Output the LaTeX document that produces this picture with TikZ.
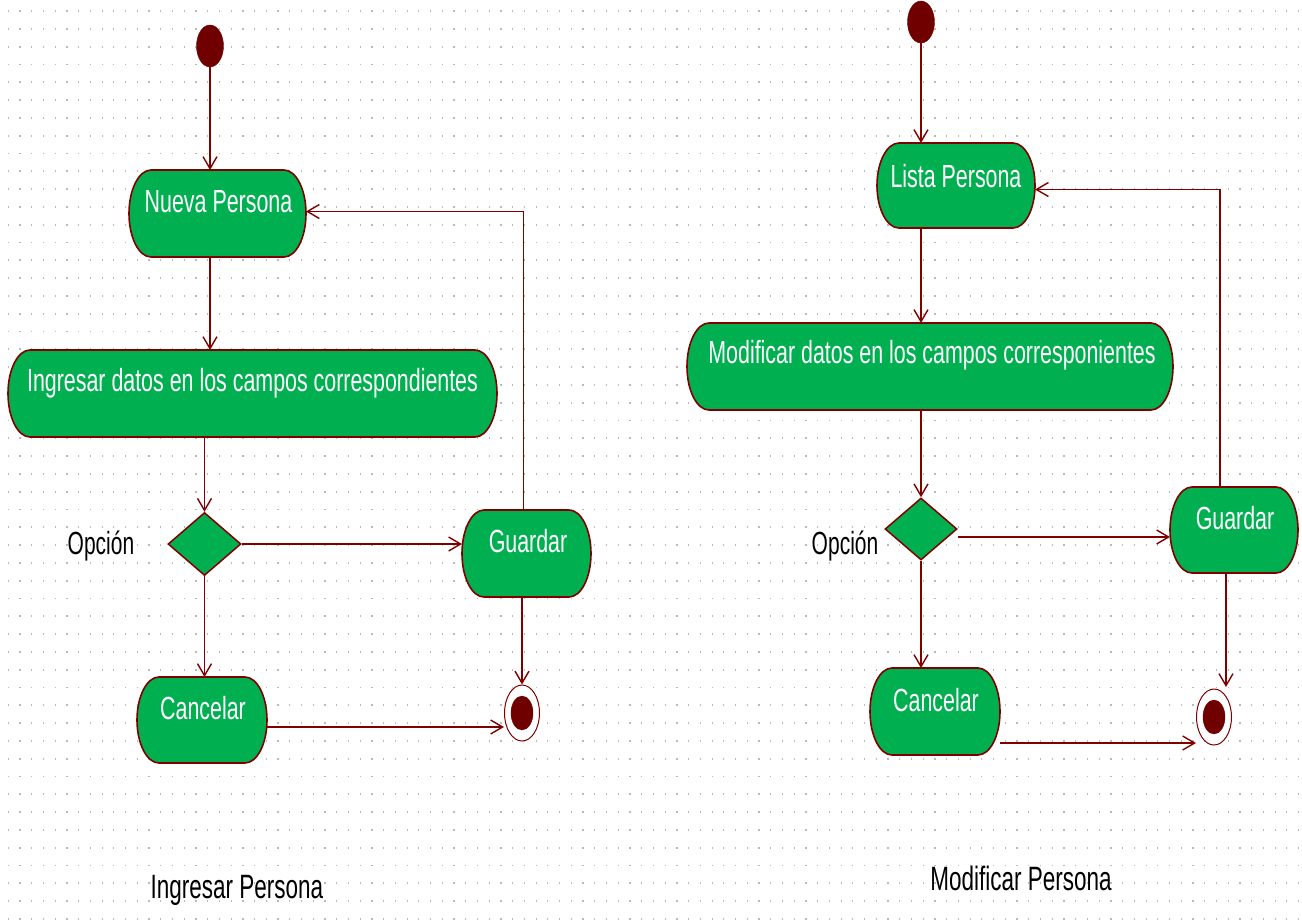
\documentclass[tikz,border=0pt]{standalone}
\usepackage{fontspec}
\setmainfont{Liberation Sans}
\usetikzlibrary{arrows.meta,shapes.geometric}
\definecolor{umlred}{RGB}{128,0,0}
\definecolor{umldark}{RGB}{112,0,0}
\definecolor{umlgreen}{RGB}{0,176,80}
\definecolor{dotgray}{RGB}{185,185,185}
\tikzset{
  boxnode/.style={rectangle, inner sep=0pt, outer sep=0pt, draw=none},
  boxline/.style={draw=umlred, fill=umlgreen, line width=1.6pt},
  acttxt/.style={text=white, font=\fontsize{20}{24}\selectfont, inner sep=0pt},
  plaintxt/.style={text=black, font=\fontsize{20}{24}\selectfont, inner sep=0pt},
  titletxt/.style={text=black, font=\fontsize{22.5}{26}\selectfont, inner sep=0pt},
  arr/.style={draw=umlred, line width=1.6pt, -{Straight Barb[length=12pt,width=14pt,line width=1.4pt]}},
  initnode/.style={ellipse, draw=umldark, fill=umldark, inner sep=0pt, minimum width=27pt, minimum height=42pt},
  finalouter/.style={ellipse, draw=umlred, fill=white, line width=1pt, inner sep=0pt, minimum width=35pt, minimum height=56pt},
  finalinner/.style={ellipse, draw=umldark, fill=umldark, inner sep=0pt, minimum width=22pt, minimum height=34pt},
  decision/.style={diamond, draw=umlred, fill=umlgreen, line width=1.5pt, inner sep=0pt, minimum width=73pt, minimum height=63pt},
}
\newcommand\actbox[5]{%
  \node[boxnode, minimum width=#4pt, minimum height=#5pt] (#1) at (#2,#3) {};
  \filldraw[boxline] ([xshift=22pt]#1.north west) -- ([xshift=-22pt]#1.north east)
     arc[start angle=90, end angle=-90, x radius=22pt, y radius=#5pt/2]
     -- ([xshift=22pt]#1.south west)
     arc[start angle=270, end angle=90, x radius=22pt, y radius=#5pt/2] -- cycle;
}
\newcommand\acttext[4]{\node[acttxt] (#1) at (#2,#3) {\scalebox{1.07}[1.6]{#4}};}
\begin{document}
\begin{tikzpicture}[x=1pt,y=-1pt]
\useasboundingbox (0,0) rectangle (1302,919);
\fill[white] (0,0) rectangle (1302,919);
% dotted grid
\foreach \i in {0,...,110}{
  \foreach \j in {0,...,51}{
    \fill[dotgray] ({7.7+11.73*\i},{10.1+17.8*\j}) rectangle ++(1.2,1.8);
  }
}
% ---------- left diagram ----------
\node[initnode] (s1) at (210,46) {};
\actbox{n1}{217.5}{213.5}{177}{87}
\actbox{i1}{252.5}{393.5}{489}{87}
\node[decision] (d1) at (204.5,544) {};
\actbox{g1}{526.5}{553.5}{129}{87}
\actbox{c1}{202}{720}{130}{86}
\node[finalouter] (f1) at (522,713) {};
\node[finalinner] (f1i) at (f1) {};

\acttext{t1}{218.5}{202}{Nueva Persona}
\acttext{t2}{252.5}{383}{Ingresar datos en los campos correspondientes}
\acttext{t3}{528}{541}{Guardar}
\acttext{t4}{203}{708}{Cancelar}
\node[plaintxt] (t5) at (101,546) {\scalebox{1.05}[1.6]{Opción}};
\node[titletxt] (t6) at (237,890) {\scalebox{1}[1.5]{Ingresar Persona}};

\draw[arr] (s1.south) -- (s1.south |- n1.north);
\draw[arr] (n1.south -| s1) -- (i1.north -| s1);
\draw[arr] (i1.south -| d1.north) -- (d1.north);
\draw[arr] (d1.south) -- (d1.south |- c1.north);
\draw[arr] (d1.east) -- (d1.east -| g1.west);
\draw[arr] ([xshift=-3pt]g1.north) |- ([yshift=2pt]n1.east);
\draw[arr] (g1.south -| f1) -- (f1);
\draw[arr] ([yshift=-7pt]c1.east) -- ([yshift=-7pt]c1.east -| f1.west);

% ---------- right diagram ----------
\node[initnode] (s2) at (921,22) {};
\actbox{l2}{956}{185.5}{158}{85}
\actbox{m2}{930}{366.5}{486}{87}
\node[decision, minimum width=72pt, minimum height=62pt] (d2) at (921,529) {};
\actbox{g2}{1234}{530}{128}{86}
\actbox{c2}{935}{711.5}{130}{87}
\node[finalouter] (f2) at (1214,717) {};
\node[finalinner] (f2i) at (f2) {};
\coordinate (f2top) at (1226,687);
\coordinate (f2left) at (1196,743);

\acttext{u1}{956}{176}{Lista Persona}
\acttext{u2}{932}{355}{Modificar datos en los campos corresponientes}
\acttext{u3}{1235}{518}{Guardar}
\acttext{u4}{936}{700}{Cancelar}
\node[plaintxt] (u5) at (845,546) {\scalebox{1.05}[1.6]{Opción}};
\node[titletxt] (u6) at (1021,878) {\scalebox{1}[1.5]{Modificar Persona}};

\draw[arr] (s2.south) -- (s2.south |- l2.north);
\draw[arr] (l2.south -| s2) -- (m2.north -| s2);
\draw[arr] (m2.south -| d2.north) -- (d2.north);
\draw[arr] (d2.south) -- (d2.south |- c2.north);
\draw[arr] ([yshift=-8pt]d2.east) -- ([yshift=-8pt]d2.east -| g2.west);
\draw[arr] ([xshift=-14pt]g2.north) |- ([yshift=-4pt]l2.east);
\draw[arr] (f2top |- g2.south) -- (f2top);
\draw[arr] (c2.east |- f2left) -- (f2left);
\end{tikzpicture}
\end{document}
